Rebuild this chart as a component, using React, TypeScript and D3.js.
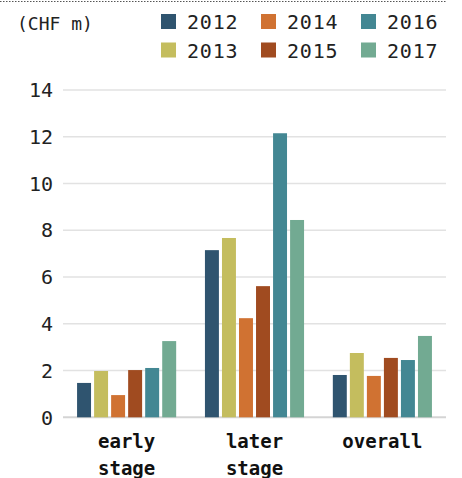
import React from "react";
import * as d3 from "d3";

const categories = ["early stage", "later stage", "overall"];
const years = ["2012", "2013", "2014", "2015", "2016", "2017"];
const colors = ["#2f546f", "#c4bd5e", "#d07232", "#a04b20", "#438793", "#72aa92"];
// values per year, one entry per category
const v2012 = [1.47, 7.15, 1.81];
const v2013 = [1.98, 7.67, 2.75];
const v2014 = [0.95, 4.24, 1.77];
const v2015 = [2.02, 5.61, 2.54];
const v2016 = [2.11, 12.15, 2.45];
const v2017 = [3.26, 8.44, 3.48];
const series = [v2012, v2013, v2014, v2015, v2016, v2017];
const yTicks = [0, 2, 4, 6, 8, 10, 12, 14];
const unitLabel = "(CHF m)";

const W = 462;
const H = 478;
const FONT = "'DejaVu Sans Mono', 'Liberation Mono', monospace";

export default function App() {
  const x0 = d3.scaleBand().domain(categories).range([63, 446]).paddingInner(0.225).paddingOuter(0.11);
  const x1 = d3.scaleBand().domain(years).range([0, x0.bandwidth()]).paddingInner(0.18);
  const y = d3.scaleLinear().domain([0, 14]).range([417.3, 90]);

  // legend layout: 3 columns x 2 rows, column-major order
  const legendItems = years.map((yr, i) => ({
    yr,
    color: colors[i],
    col: Math.floor(i / 2),
    row: i % 2,
  }));

  return (
    <svg
      width={W}
      height={H}
      style={{ position: "absolute", left: 0, top: 0, background: "#fff" }}
      fontFamily={FONT}
    >
      <line x1={0} x2={447} y1={1.5} y2={1.5} stroke="#555" strokeWidth={1} strokeDasharray="1.5,1.5" />
      <text x={17} y={30} fontSize={18} fill="#222">{unitLabel}</text>

      {legendItems.map((d) => (
        <g key={d.yr} transform={`translate(${161 + d.col * 100},${14 + d.row * 28.5})`}>
          <rect width={15} height={15} fill={d.color} />
          <text x={26} y={15} fontSize={20} letterSpacing={0.8} fill="#222">{d.yr}</text>
        </g>
      ))}

      {yTicks.map((t) => (
        <g key={t}>
          <line x1={63} x2={446} y1={y(t)} y2={y(t)} stroke={t === 0 ? "#d4d4d4" : "#e2e2e2"} strokeWidth={t === 0 ? 2 : 1.5} />
          <text x={53} y={y(t)} dy="0.36em" textAnchor="end" fontSize={20} fill="#222">{t}</text>
        </g>
      ))}

      {categories.map((c, ci) => (
        <g key={c} transform={`translate(${x0(c)},0)`}>
          {years.map((yr, yi) => (
            <rect
              key={yr}
              x={x1(yr)}
              y={y(series[yi][ci])}
              width={x1.bandwidth()}
              height={y(0) - y(series[yi][ci])}
              fill={colors[yi]}
            />
          ))}
          <text
            x={x0.bandwidth() / 2}
            y={448}
            textAnchor="middle"
            fontSize={19}
            fontWeight="bold"
            fill="#111"
          >
            {c.split(" ").map((w, i) => (
              <tspan key={i} x={x0.bandwidth() / 2} dy={i === 0 ? 0 : 27}>{w}</tspan>
            ))}
          </text>
        </g>
      ))}
    </svg>
  );
}
